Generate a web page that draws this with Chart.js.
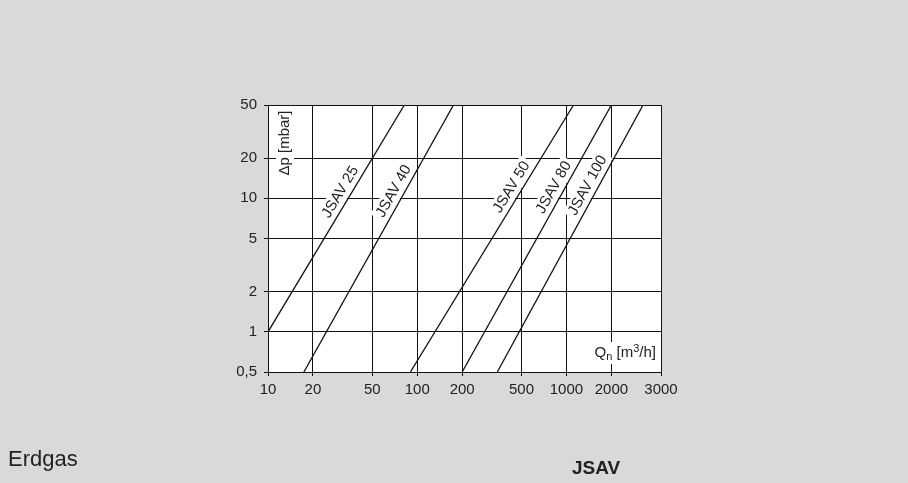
<!DOCTYPE html>
<html>
<head>
<meta charset="utf-8">
<script src="https://cdn.jsdelivr.net/npm/chart.js@4/dist/chart.umd.min.js"></script>
<style>
  html, body { margin: 0; padding: 0; background: #d9d9d9; }
  #wrap { position: relative; width: 908px; height: 483px; overflow: hidden; }
  canvas { position: absolute; left: 0; top: 0; }
  .foot { position: absolute; font-family: "Liberation Sans", Arial, sans-serif; color: #222; white-space: nowrap; }
</style>
</head>
<body>
<div id="wrap">
  <canvas id="chart" width="908" height="483"></canvas>
  <div class="foot" style="left:8px; top:446px; font-size:22px;">Erdgas</div>
  <div class="foot" style="left:572px; top:457px; font-size:19px; font-weight:bold;">JSAV</div>
</div>
<script>
// pressure loss curves (flow in m3/h, dp in mbar)
const seriesNames = ['JSAV 25', 'JSAV 40', 'JSAV 50', 'JSAV 80', 'JSAV 100'];
const flowStart = [10, 17.4, 90, 200, 344];
const dpStart = [1, 0.5, 0.5, 0.5, 0.5];
const flowEnd = [82, 175, 1115, 2000, 3260];
const dpEnd = [50, 50, 50, 50, 50];
// dp value where each curve label sits
const labelDp = [10.2, 10.4, 11.1, 11.1, 11.5];

const xTicks = [10, 20, 50, 100, 200, 500, 1000, 2000, 4300];
const xTickLabels = ['10', '20', '50', '100', '200', '500', '1000', '2000', '3000'];
const yTicks = [0.5, 1, 2, 5, 10, 20, 50];
const yTickLabels = ['0,5', '1', '2', '5', '10', '20', '50'];

const FONT = '"Liberation Sans", Arial, sans-serif';
const INK = '#222';

const datasets = seriesNames.map((name, i) => ({
    label: name,
    data: [{ x: flowStart[i], y: dpStart[i] }, { x: flowEnd[i], y: dpEnd[i] }],
    borderColor: '#111',
    borderWidth: 1.3,
    pointRadius: 0,
    fill: false
}));

function boxText(ctx, text, x, y, angle) {
    ctx.save();
    ctx.translate(x, y);
    ctx.rotate(angle);
    const w = ctx.measureText(text).width;
    ctx.fillStyle = '#fff';
    ctx.fillRect(-w / 2 - 3, -9, w + 6, 18);
    ctx.fillStyle = INK;
    ctx.fillText(text, 0, 0);
    ctx.restore();
}

const decor = {
    id: 'decor',
    beforeDraw(chart) {
        const a = chart.chartArea;
        chart.ctx.save();
        chart.ctx.fillStyle = '#fff';
        chart.ctx.fillRect(a.left, a.top, a.right - a.left, a.bottom - a.top);
        chart.ctx.restore();
    },
    beforeDatasetsDraw(chart) {
        const ctx = chart.ctx;
        const xs = chart.scales.x, ys = chart.scales.y;
        const a = chart.chartArea;
        ctx.save();
        ctx.font = '15px ' + FONT;
        ctx.textAlign = 'center';
        ctx.textBaseline = 'middle';

        // curve labels, set beside each line
        seriesNames.forEach((name, i) => {
            const x0 = xs.getPixelForValue(flowStart[i]), y0 = ys.getPixelForValue(dpStart[i]);
            const x1 = xs.getPixelForValue(flowEnd[i]), y1 = ys.getPixelForValue(dpEnd[i]);
            const py = ys.getPixelForValue(labelDp[i]);
            const px = x0 + (py - y0) * (x1 - x0) / (y1 - y0);
            const ang = Math.atan2(y1 - y0, x1 - x0);
            const off = 10;
            const cx = px + off * Math.sin(ang);
            const cy = py - off * Math.cos(ang);
            boxText(ctx, name, cx, cy, ang);
        });

        // y axis title
        boxText(ctx, 'Δp [mbar]', a.left + 17, a.top + 38, -Math.PI / 2);

        // x axis title Qn [m3/h]
        const big = '15px ' + FONT, small = '11px ' + FONT;
        const parts = [['Q', big, 0], ['n', small, 3], [' [m', big, 0], ['3', small, -5], ['/h]', big, 0]];
        let total = 0;
        parts.forEach(p => { ctx.font = p[1]; total += ctx.measureText(p[0]).width; });
        let x = a.right - 5 - total;
        const base = a.bottom - 15;
        ctx.fillStyle = '#fff';
        ctx.fillRect(x - 3, base - 15, total + 6, 22);
        ctx.fillStyle = INK;
        ctx.textAlign = 'left';
        ctx.textBaseline = 'alphabetic';
        parts.forEach(p => {
            ctx.font = p[1];
            ctx.fillText(p[0], x, base + p[2]);
            x += ctx.measureText(p[0]).width;
        });
        ctx.restore();
    }
};

new Chart(document.getElementById('chart').getContext('2d'), {
    type: 'line',
    data: { datasets: datasets },
    plugins: [decor],
    options: {
        responsive: false,
        animation: false,
        parsing: false,
        layout: { padding: { left: 208, right: 247, top: 105, bottom: 81 } },
        plugins: { legend: { display: false }, tooltip: { enabled: false } },
        scales: {
            x: {
                type: 'logarithmic',
                min: 10,
                max: 4300,
                afterBuildTicks: s => { s.ticks = xTicks.map(v => ({ value: v })); },
                afterFit: s => { s.height = 30; },
                ticks: {
                    autoSkip: false, maxRotation: 0, padding: 5, color: INK,
                    font: { family: FONT, size: 15 },
                    callback: (v, i) => xTickLabels[i]
                },
                grid: { color: '#111', lineWidth: 1, tickLength: 4 },
                border: { color: '#111', width: 1 }
            },
            y: {
                type: 'logarithmic',
                min: 0.5,
                max: 50,
                afterBuildTicks: s => { s.ticks = yTicks.map(v => ({ value: v })); },
                afterFit: s => { s.width = 60; },
                ticks: {
                    autoSkip: false, padding: 7, color: INK,
                    font: { family: FONT, size: 15 },
                    callback: (v, i) => yTickLabels[i]
                },
                grid: { color: '#111', lineWidth: 1, tickLength: 4 },
                border: { color: '#111', width: 1 }
            }
        }
    }
});
</script>
</body>
</html>
